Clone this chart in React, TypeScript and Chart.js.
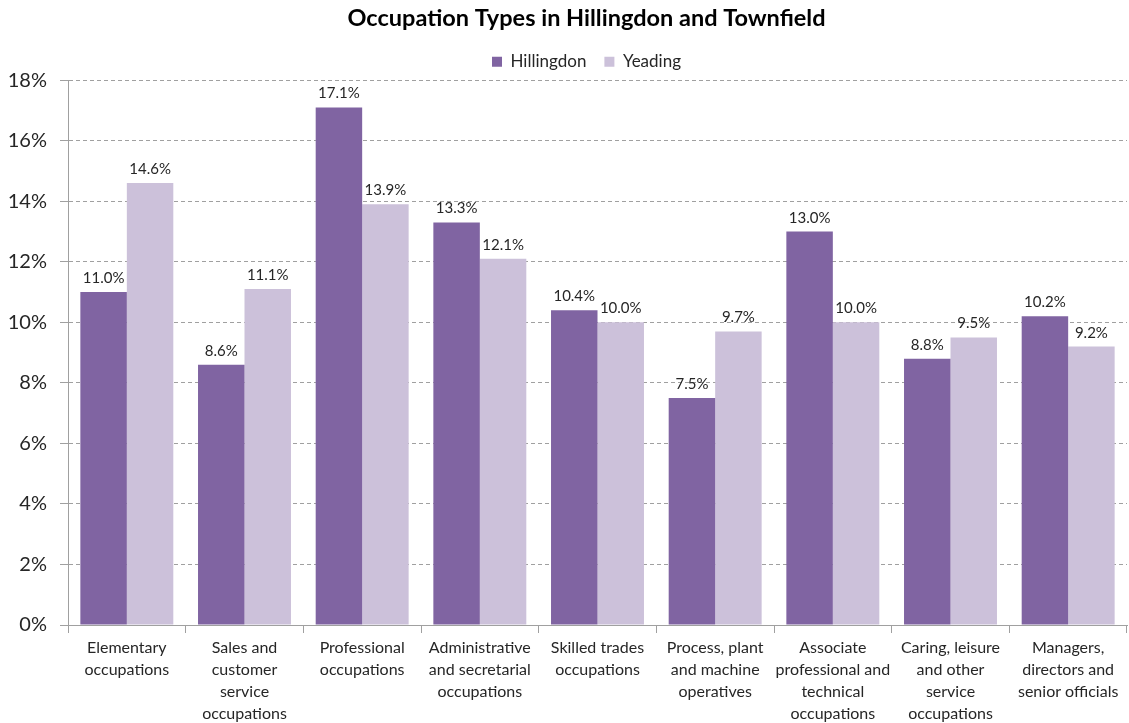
import React, { useEffect, useRef } from "react";
import { Chart, registerables } from "chart.js";

Chart.register(...registerables);

const categories: string[][] = [
  ["Elementary", "occupations"],
  ["Sales and", "customer", "service", "occupations"],
  ["Professional", "occupations"],
  ["Administrative", "and secretarial", "occupations"],
  ["Skilled trades", "occupations"],
  ["Process, plant", "and machine", "operatives"],
  ["Associate", "professional and", "technical", "occupations"],
  ["Caring, leisure", "and other", "service", "occupations"],
  ["Managers,", "directors and", "senior officials"],
];

const hillingdon: number[] = [11.0, 8.6, 17.1, 13.3, 10.4, 7.5, 13.0, 8.8, 10.2];
const yeading: number[] = [14.6, 11.1, 13.9, 12.1, 10.0, 9.7, 10.0, 9.5, 9.2];

const seriesNames = ["Hillingdon", "Yeading"];
const seriesColors = ["#8064A2", "#CCC1DA"];
const yTicks: number[] = [0, 2, 4, 6, 8, 10, 12, 14, 16, 18];

const FONT = "Lato, 'Open Sans', sans-serif";

const valueLabels = {
  id: "valueLabels",
  afterDatasetsDraw(chart: any) {
    const ctx = chart.ctx;
    ctx.save();
    ctx.font = `15px ${FONT}`;
    ctx.fillStyle = "#262626";
    ctx.textAlign = "center";
    ctx.textBaseline = "alphabetic";
    chart.data.datasets.forEach((ds: any, i: number) => {
      const meta = chart.getDatasetMeta(i);
      meta.data.forEach((el: any, j: number) => {
        ctx.fillText(ds.data[j].toFixed(1) + "%", el.x, el.y - 9);
      });
    });
    ctx.restore();
  },
};

// The reference centres its title and legend slightly right of the canvas centre.
const shiftHeader = {
  id: "shiftHeader",
  afterLayout(chart: any) {
    const dx = 19;
    if (chart.legend) {
      chart.legend.left += dx;
      chart.legend.right += dx;
    }
    if (chart.titleBlock) {
      chart.titleBlock.left += dx;
      chart.titleBlock.right += dx;
    }
  },
};

export default function App() {
  const ref = useRef<HTMLCanvasElement>(null);
  useEffect(() => {
    if (!ref.current) return;
    const chart = new Chart(ref.current, {
      type: "bar",
      data: {
        labels: categories,
        datasets: [
          { label: seriesNames[0], data: hillingdon, backgroundColor: seriesColors[0] },
          { label: seriesNames[1], data: yeading, backgroundColor: seriesColors[1] },
        ],
      },
      options: {
        animation: false,
        responsive: false,
        maintainAspectRatio: false,
        layout: { padding: { left: 8, right: 2, top: 0, bottom: 0 } },
        datasets: { bar: { categoryPercentage: 0.79, barPercentage: 1 } },
        plugins: {
          title: {
            display: true,
            text: "Occupation Types in Hillingdon and Townfield",
            color: "#000",
            font: { family: FONT, size: 23.5, weight: "bold" },
            padding: { top: 4, bottom: 3 },
          },
          legend: {
            display: true,
            labels: {
              boxWidth: 10,
              boxHeight: 10,
              color: "#262626",
              font: { family: FONT, size: 17 },
              padding: 18,
            },
          },
          tooltip: { enabled: false },
        },
        scales: {
          x: {
            offset: true,
            grid: {
              display: true,
              offset: true,
              drawOnChartArea: false,
              drawTicks: true,
              tickLength: 8,
              color: "#a0a0a0",
            },
            border: { display: true, color: "#a0a0a0" },
            ticks: {
              color: "#262626",
              font: { family: FONT, size: 16, lineHeight: 1.375 },
              maxRotation: 0,
              minRotation: 0,
              autoSkip: false,
              padding: 4,
            },
            afterFit(scale: any) {
              scale.height = 98;
            },
          },
          y: {
            min: 0,
            max: 18,
            afterBuildTicks(scale: any) {
              scale.ticks = yTicks.map((v) => ({ value: v }));
            },
            grid: {
              color: "#a0a0a0",
              tickColor: "#a0a0a0",
              tickLength: 8,
              tickBorderDash: [],
            },
            border: { display: true, color: "#a0a0a0", dash: [4, 3] },
            ticks: {
              color: "#262626",
              font: { family: FONT, size: 20 },
              padding: 13,
              callback: (v: any) => v + "%",
            },
            afterFit(scale: any) {
              scale.width = 60;
            },
          },
        },
      },
      plugins: [valueLabels, shiftHeader],
    });
    return () => chart.destroy();
  }, []);
  return (
    <div style={{ position: "fixed", left: 0, top: 0, width: 1129, height: 723, background: "#fff" }}>
      <canvas ref={ref} width={1129} height={723} />
    </div>
  );
}
